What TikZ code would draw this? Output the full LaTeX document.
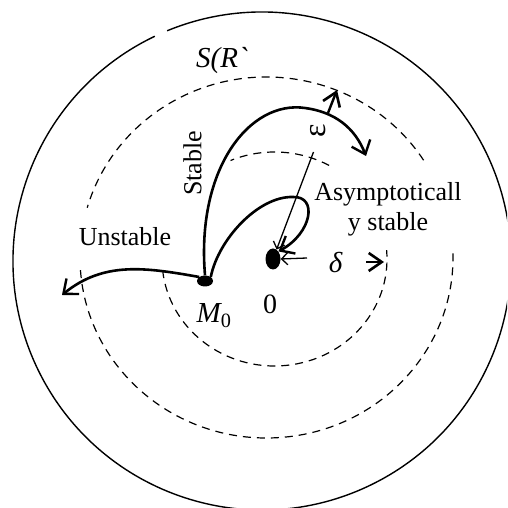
\documentclass[tikz,border=0pt]{standalone}
\usepackage{fontspec}
\setmainfont{Liberation Serif}
\usetikzlibrary{arrows.meta,shapes.geometric}
\tikzset{
  outerline/.style={line width=1.4pt},
  dashline/.style={line width=1.2pt, dash pattern=on 8pt off 6pt},
  traj/.style={line width=2.6pt, -{Straight Barb[length=12pt,width=20pt,line width=2.4pt]}},
  thinarrow/.style={line width=1.3pt, -{Straight Barb[length=6pt,width=12pt,line width=1.3pt]}},
  bigtip/.style={line width=2.4pt, -{Straight Barb[length=13pt,width=18pt,line width=2.6pt]}},
  dot/.style={ellipse, fill=black, inner sep=0pt},
  lbl/.style={font=\fontsize{26}{30}\selectfont, inner sep=1pt},
  mlbl/.style={font=\fontsize{29}{33}\selectfont\itshape, inner sep=1pt}
}
\begin{document}
\begin{tikzpicture}[x=1pt,y=1pt]
\useasboundingbox (0,0) rectangle (507,508);
\begin{scope}
\clip (0,0) rectangle (507,508);
% outer circle with small gap at the top
\draw[outerline] (262,247) ++(115.5:249) arc[start angle=115.5, end angle=472.4, radius=249];
\end{scope}
% big dashed circle S(R)
\draw[dashline] (266.5,250.5) ++(32.6:186.5 and 180.5) arc[start angle=32.6, end angle=164, x radius=186.5, y radius=180.5];
\draw[dashline] (266.5,250.5) ++(184:186.5 and 180.5) arc[start angle=184, end angle=363, x radius=186.5, y radius=180.5];
% inner dashed circle
\draw[dashline] (274.5,249) ++(61:112.5 and 107) arc[start angle=61, end angle=113, x radius=112.5, y radius=107];
\draw[dashline] (274.5,249) ++(186:112.5 and 107) arc[start angle=186, end angle=364.8, x radius=112.5, y radius=107];
% points
\node[dot, minimum width=15pt, minimum height=21pt] (O) at (273,249) {};
\node[dot, minimum width=16pt, minimum height=11pt] (M) at (205,227) {};
% labels
\node[lbl, font=\fontsize{28}{32}\selectfont] (lO) at (270,204) {0};
\node[mlbl] (lM) at (214,192) {M\textsubscript{\upshape 0}};
\node[mlbl] (lS) at (222,447) {S(R\textasciigrave};
\node[lbl, rotate=90] (lSt) at (192.5,344.5) {Stable};
\node[lbl] (lU) at (125,271) {Unstable};
\node[lbl, align=center] (lA) at (388,299) {Asymptoticall\\y stable};
\node[mlbl] (ld) at (335.5,245.5) {δ};
\node[font=\fontsize{32}{36}\selectfont, rotate=90, inner sep=0pt] (le) at (318,377) {ε};
% helper coordinates
\coordinate (e1) at (313.5,356);
\coordinate (e2) at (328,395);
\coordinate (etip) at (337,418);
\coordinate (d1) at (307,250);
\coordinate (d2) at (366,246);
\coordinate (dtip) at (384,246);
\coordinate (utip) at (62,213);
\coordinate (stip) at (366,352);
% trajectories
\draw[traj] (M.north west) to[out=170,in=39] (utip);
\draw[traj] (M.north) .. controls (196,340) and (250,408) .. (305,400)
  .. controls (335,396) and (355,380) .. (stip);
\draw[traj] (M.north east) .. controls (218,268) and (258,312) .. (293,311)
  .. controls (318,312) and (312,275) .. (O.north east);
% epsilon and delta radii
\draw[thinarrow] (e1) -- (O);
\draw[bigtip] (e2) -- (etip);
\draw[thinarrow] (d1) -- (O.east);
\draw[bigtip] (d2) -- (dtip);
\end{tikzpicture}
\end{document}
